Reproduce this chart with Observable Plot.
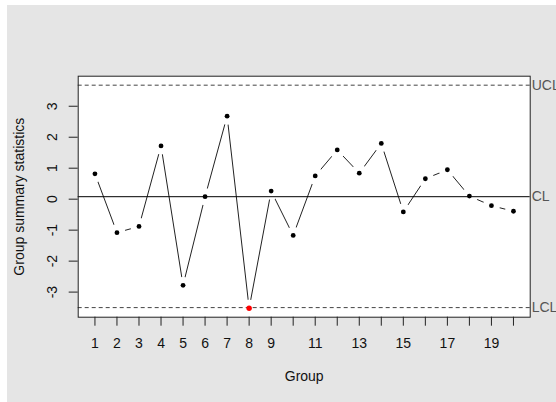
<!DOCTYPE html>
<html>
<head>
<meta charset="utf-8">
<script src="https://cdn.jsdelivr.net/npm/d3@7"></script>
<script src="https://cdn.jsdelivr.net/npm/@observablehq/plot@0.6"></script>
<style>
  html, body { margin: 0; padding: 0; background: white; }
  #chart { position: absolute; left: 7px; top: 5px; }
</style>
</head>
<body>
<div id="chart"></div>
<script>
const groups = [1, 2, 3, 4, 5, 6, 7, 8, 9, 10, 11, 12, 13, 14, 15, 16, 17, 18, 19, 20];
const stats = [0.82, -1.08, -0.88, 1.72, -2.78, 0.08, 2.68, -3.52, 0.26, -1.17,
               0.75, 1.59, 0.84, 1.80, -0.41, 0.66, 0.95, 0.10, -0.21, -0.39];
const CL = 0.08;
const UCL = 3.68;
const LCL = -3.50;
const limitNames = ["UCL", "CL", "LCL"];
const limitValues = [UCL, CL, LCL];
const yTicks = [-3, -2, -1, 0, 1, 2, 3];
const xTickLabels = ["1", "2", "3", "4", "5", "6", "7", "8", "9", "", "11", "", "13", "", "15", "", "17", "", "19", ""];

const pts = groups.map((g, i) => ({g, v: stats[i], out: stats[i] > UCL || stats[i] < LCL}));

const font = "14px";
const chart = Plot.plot({
  width: 549,
  height: 397,
  marginLeft: 70.7,
  marginTop: 70.7,
  marginRight: 26.3,
  marginBottom: 85.3,
  style: {background: "#e5e5e5", fontFamily: "'Liberation Sans', Arial, sans-serif", fontSize: font, color: "#111"},
  x: {domain: [0.24, 20.76], axis: null},
  y: {domain: [-3.81, 3.97], axis: null},
  marks: [
    Plot.frame({fill: "white", stroke: null}),
    Plot.line(pts, {x: "g", y: "v", stroke: "#222", strokeWidth: 1}),
    Plot.dot(pts, {x: "g", y: "v", r: 8.6, fill: "white", stroke: null}),
    Plot.ruleY([UCL, LCL], {stroke: "#444", strokeWidth: 1, strokeDasharray: "4,3"}),
    Plot.ruleY([CL], {stroke: "#000", strokeWidth: 1}),
    Plot.dot(pts.filter(d => !d.out), {x: "g", y: "v", r: 2.4, fill: "black", stroke: null}),
    Plot.dot(pts.filter(d => d.out), {x: "g", y: "v", r: 2.7, fill: "red", stroke: null}),
    Plot.frame({stroke: "#222", strokeWidth: 1}),
    Plot.axisX({ticks: groups, tickSize: 9, tickPadding: 12.3, tickFormat: (d) => xTickLabels[groups.indexOf(d)], fontSize: font, stroke: "#222", fill: "#111", label: null}),
    Plot.axisY({ticks: yTicks, tickSize: 9, tickFormat: () => "", stroke: "#222", label: null}),
    Plot.text(yTicks, {y: (d) => d, text: (d) => String(d), frameAnchor: "left", dx: -26, rotate: -90, textAnchor: "middle", lineAnchor: "middle", fontSize: font, fill: "#111"}),
    Plot.text(limitValues, {y: (d) => d, text: (d, i) => limitNames[i], frameAnchor: "right", dx: 1.5, textAnchor: "start", lineAnchor: "middle", fontSize: font, fill: "#555"}),
    Plot.text(["Group summary statistics"], {frameAnchor: "left", dx: -58.7, rotate: -90, textAnchor: "middle", lineAnchor: "middle", fontSize: font, fill: "#111"}),
    Plot.text(["Group"], {frameAnchor: "bottom", dy: 59.8, textAnchor: "middle", lineAnchor: "middle", fontSize: font, fill: "#111"})
  ]
});
document.getElementById("chart").appendChild(chart);
</script>
</body>
</html>
